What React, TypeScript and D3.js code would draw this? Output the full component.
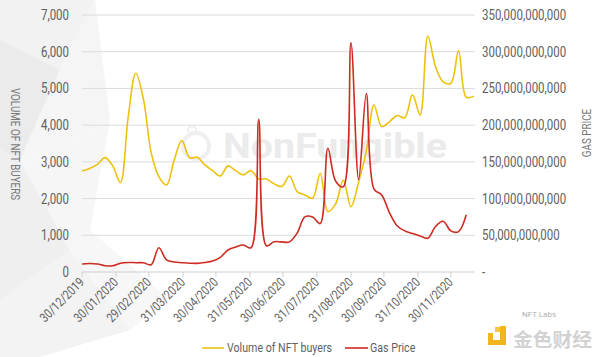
import React from "react";
import * as d3 from "d3";

const startDate = "2019-12-30";
const buyers = [
  2750, 2820, 2930, 3115, 2890, 2435, 4200, 5415, 4700, 3250,
  2600, 2370, 3050, 3580, 3110, 3125, 2915, 2760, 2615, 2890,
  2760, 2645, 2760, 2535, 2535, 2400, 2330, 2615, 2190, 2100,
  2010, 2690, 1650, 1850, 2505, 1780, 2450, 3300, 4550, 3960,
  4090, 4260, 4200, 4825, 4280, 6430, 5600, 5180, 5140, 6030,
  4760, 4790,
];
const gasPrice = [
  11, 11.5, 11, 8.5, 8.5, 12, 13, 12.7, 12.5, 10,
  33, 16.5, 13.5, 12.7, 12, 11.8, 13, 15, 20, 30,
  34, 36.8, 33, 208, 35.8, 41.3, 41, 41, 53, 75,
  75, 66, 168.5, 124, 116, 312, 126, 243, 113, 105,
  81, 63, 56, 52.5, 49, 46, 62, 69, 56, 55,
  78,
];
const leftTicks = [0, 1000, 2000, 3000, 4000, 5000, 6000, 7000];
const rightTicks = [0, 50, 100, 150, 200, 250, 300, 350];
const xTickDates = [
  "2019-12-30", "2020-01-30", "2020-02-29", "2020-03-31", "2020-04-30", "2020-05-31",
  "2020-06-30", "2020-07-31", "2020-08-31", "2020-09-30", "2020-10-31", "2020-11-30",
];
const seriesNames = ["Volume of NFT buyers", "Gas Price"];

const W = 600, H = 357;
const L = 82, R = 475, T = 15, B = 272;
const YELLOW = "#EDC10C";
const RED = "#CE2B22";
const TXT = "#5f5f5f";
const FONT = "Roboto, sans-serif";
const SX = 0.82;

type NProps = {
  x: number;
  y: number;
  rotate?: number;
  anchor?: "start" | "middle" | "end";
  size: number;
  fill: string;
  children: React.ReactNode;
};
function NText({ x, y, rotate = 0, anchor = "start", size, fill, children }: NProps) {
  return (
    <text
      transform={`translate(${x},${y}) rotate(${rotate}) scale(${SX},1)`}
      textAnchor={anchor}
      fontFamily={FONT}
      fontSize={size}
      fill={fill}
    >
      {children}
    </text>
  );
}

export default function App() {
  const parse = d3.utcParse("%Y-%m-%d");
  const fmtTick = d3.utcFormat("%d/%m/%Y");
  const start = parse(startDate) as Date;
  const x = d3.scaleUtc().domain([start, d3.utcDay.offset(start, 358)]).range([L, R]);
  const yL = d3.scaleLinear().domain([0, 7000]).range([B, T]);
  const yR = d3.scaleLinear().domain([0, 350]).range([B, T]);
  const dateAt = (i: number) => d3.utcDay.offset(start, 7 * i);

  const lineL = d3.line<number>().x((_, i) => x(dateAt(i))).y((d) => yL(d)).curve(d3.curveCatmullRom.alpha(0.5));
  const lineR = d3.line<number>().x((_, i) => x(dateAt(i))).y((d) => yR(d)).curve(d3.curveCatmullRom.alpha(0.5));
  const fmtR = (v: number) => (v === 0 ? "-" : d3.format(",")(v * 1e9));

  return (
    <svg width={W} height={H} style={{ position: "absolute", left: 0, top: 0, background: "#fff" }}>
      {/* low-poly background decoration */}
      <g opacity={0.9}>
        <polygon points="0,0 95,0 60,70 0,40" fill="#f1f1f1" />
        <polygon points="0,40 60,70 20,160 0,150" fill="#e9e9e9" />
        <polygon points="60,70 95,0 110,120 20,160" fill="#f5f5f5" />
        <polygon points="0,150 20,160 70,250 0,300" fill="#eeeeee" />
        <polygon points="20,160 110,120 90,230 70,250" fill="#f6f6f6" />
        <polygon points="0,300 70,250 130,330 40,357 0,357" fill="#f2f2f2" />
        <polygon points="70,250 90,230 170,300 130,330" fill="#f7f7f7" />
      </g>
      {/* watermark */}
      <circle cx={196} cy={146} r={13} fill="none" stroke="#efefef" strokeWidth={4} />
      <circle cx={192} cy={130} r={4} fill="none" stroke="#efefef" strokeWidth={2} />
      <text x={223} y={158} fontFamily="Roboto, sans-serif" fontWeight={700} fontSize={35} fill="#ebebeb" textLength={224} lengthAdjust="spacingAndGlyphs">NonFungible</text>

      {/* gridlines */}
      {leftTicks.map((t) => (
        <line key={t} x1={L} x2={R} y1={yL(t)} y2={yL(t)} stroke={t === 0 ? "#cfcfcf" : "#dcdcdc"} strokeWidth={1} />
      ))}
      {/* x ticks */}
      {xTickDates.map((s) => {
        const d = parse(s) as Date;
        const px = x(d);
        return (
          <g key={s}>
            <line x1={px} x2={px} y1={B} y2={B + 5} stroke="#cfcfcf" />
            <NText x={px + 3} y={B + 11} rotate={-45} anchor="end" size={13} fill={TXT}>
              {fmtTick(d)}
            </NText>
          </g>
        );
      })}
      {/* left axis labels */}
      {leftTicks.map((t) => (
        <NText key={t} x={69} y={yL(t) + 5} anchor="end" size={14} fill={TXT}>
          {d3.format(",")(t)}
        </NText>
      ))}
      {/* right axis labels */}
      {rightTicks.map((t) => (
        <NText key={t} x={482} y={yR(t) + 5} size={14} fill={TXT}>
          {fmtR(t)}
        </NText>
      ))}
      {/* axis titles */}
      <NText x={11} y={144} rotate={90} anchor="middle" size={12} fill="#7a7a7a">VOLUME OF NFT BUYERS</NText>
      <NText x={591} y={133} rotate={-90} anchor="middle" size={12} fill="#7a7a7a">GAS PRICE</NText>

      {/* series */}
      <path d={lineL(buyers) ?? ""} fill="none" stroke={YELLOW} strokeWidth={1.6} />
      <path d={lineR(gasPrice) ?? ""} fill="none" stroke={RED} strokeWidth={1.6} />

      {/* legend */}
      <line x1={202} x2={224} y1={348} y2={348} stroke={YELLOW} strokeWidth={1.6} />
      <NText x={227} y={352} size={13} fill={TXT}>{seriesNames[0]}</NText>
      <line x1={345} x2={368} y1={348} y2={348} stroke={RED} strokeWidth={1.6} />
      <NText x={370} y={352} size={13} fill={TXT}>{seriesNames[1]}</NText>

      {/* logo */}
      <path d="M488,333 h5 v7 h7 v-14 h6 v19 h-18 z" fill="#F2B51C" />
      <rect x={495} y={327} width={5} height={5} fill="#F2B51C" opacity={0.8} />
      <text x={522} y={317} fontFamily="Roboto, sans-serif" fontSize={8} fill="#b0b0b0">NFT Labs</text>
      <text x={513} y={347} fontFamily="'Noto Sans CJK SC', sans-serif" fontSize={19} fontWeight={700} fill="#d2d2d2" textLength={79} lengthAdjust="spacingAndGlyphs">金色财经</text>
    </svg>
  );
}
